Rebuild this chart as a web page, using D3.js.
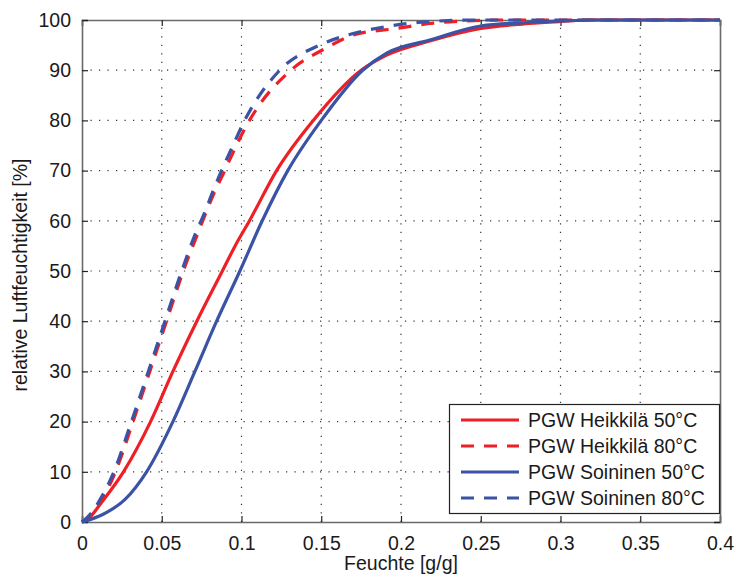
<!DOCTYPE html>
<html>
<head>
<meta charset="utf-8">
<script src="https://cdn.jsdelivr.net/npm/d3@7"></script>
<style>
  body { margin: 0; background: #fff; }
  text { font-family: "Liberation Sans", Arial, Helvetica, sans-serif; fill: #1a1a1a; }
</style>
</head>
<body>
<svg id="chart" width="736" height="577"></svg>
<script>
// values (Feuchte g/g -> relative Luftfeuchtigkeit %)
var heik50X = [0, 0.005, 0.012, 0.026, 0.043, 0.057, 0.072, 0.088, 0.096, 0.105, 0.122, 0.145, 0.175, 0.191, 0.218, 0.25, 0.28, 0.3, 0.32, 0.4];
var heik50Y = [0, 1, 3.8, 10, 20, 30, 40, 50, 55, 60, 70, 80, 90, 93, 95.8, 98.3, 99.3, 99.7, 100, 100];

var heik80X = [0, 0.006, 0.0135, 0.021, 0.032, 0.0425, 0.053, 0.0635, 0.072, 0.0835, 0.0895, 0.096, 0.105, 0.131, 0.153, 0.17, 0.197, 0.218, 0.24, 0.26, 0.4];
var heik80Y = [0, 1.5, 5, 10, 20, 30, 40, 50, 57, 66, 70, 74.5, 80, 90, 94.4, 97, 98.3, 99.3, 99.8, 100, 100];

var soin50X = [0, 0.013, 0.027, 0.0405, 0.057, 0.0708, 0.0844, 0.099, 0.113, 0.129, 0.15, 0.176, 0.191, 0.218, 0.25, 0.28, 0.3, 0.32, 0.4];
var soin50Y = [0, 1.5, 4.5, 10, 20, 30, 40, 50, 60, 70, 80, 90, 93.4, 96, 98.8, 99.5, 99.8, 100, 100];

var soin80X = [0, 0.005, 0.0123, 0.02, 0.031, 0.0416, 0.052, 0.0625, 0.0708, 0.0767, 0.082, 0.0876, 0.0938, 0.102, 0.124, 0.149, 0.17, 0.191, 0.218, 0.25, 0.4];
var soin80Y = [0, 1.5, 5, 10, 20, 30, 40, 50, 57.2, 61.5, 65.8, 70.1, 74.4, 80, 90, 95, 97.3, 98.7, 99.7, 100, 100];

var xTicks = [0, 0.05, 0.1, 0.15, 0.2, 0.25, 0.3, 0.35, 0.4];
var xTickLabels = ["0", "0.05", "0.1", "0.15", "0.2", "0.25", "0.3", "0.35", "0.4"];
var yTicks = [0, 10, 20, 30, 40, 50, 60, 70, 80, 90, 100];

var seriesNames = ["PGW Heikkilä 50°C", "PGW Heikkilä 80°C", "PGW Soininen 50°C", "PGW Soininen 80°C"];

var red = "#ee1f25", blue = "#3b53a5";
var series = [
  {name: seriesNames[0], xs: heik50X, ys: heik50Y, color: red, dash: null},
  {name: seriesNames[1], xs: heik80X, ys: heik80Y, color: red, dash: "13,10"},
  {name: seriesNames[2], xs: soin50X, ys: soin50Y, color: blue, dash: null},
  {name: seriesNames[3], xs: soin80X, ys: soin80Y, color: blue, dash: "13,10"}
];

var svg = d3.select("#chart");
var pL = 82, pR = 720, pT = 20, pB = 522;

var x = d3.scaleLinear().domain([0, 0.4]).range([pL, pR]);
var y = d3.scaleLinear().domain([0, 100]).range([pB, pT]);

// dotted grid
var grid = svg.append("g").attr("stroke", "#333").attr("stroke-width", 1.2).attr("stroke-dasharray", "1.2,7.3");
xTicks.slice(1, -1).forEach(function(t) {
  grid.append("line").attr("x1", x(t)).attr("x2", x(t)).attr("y1", pB).attr("y2", pT);
});
yTicks.slice(1, -1).forEach(function(t) {
  grid.append("line").attr("x1", pL).attr("x2", pR).attr("y1", y(t)).attr("y2", y(t));
});

// axes box with inward ticks
var xAxisB = d3.axisBottom(x).tickValues(xTicks).tickSize(-6).tickFormat(function(d, i) { return xTickLabels[i]; }).tickPadding(14);
var xAxisT = d3.axisTop(x).tickValues(xTicks).tickSize(-6).tickFormat("");
var yAxisL = d3.axisLeft(y).tickValues(yTicks).tickSize(-6).tickPadding(11);
var yAxisR = d3.axisRight(y).tickValues(yTicks).tickSize(-6).tickFormat("");

function styleAxis(g) {
  g.select(".domain").attr("stroke", "#6a6a6a").attr("stroke-width", 1.6);
  g.selectAll(".tick line").attr("stroke", "#222").attr("stroke-width", 1.2);
  g.selectAll(".tick text").style("font-size", "19.5px").attr("fill", "#1a1a1a");
}
svg.append("g").attr("transform", "translate(0," + pB + ")").call(xAxisB).call(styleAxis);
svg.append("g").attr("transform", "translate(0," + pT + ")").call(xAxisT).call(styleAxis);
svg.append("g").attr("transform", "translate(" + pL + ",0)").call(yAxisL).call(styleAxis);
svg.append("g").attr("transform", "translate(" + pR + ",0)").call(yAxisR).call(styleAxis);

// curves
var line = d3.line()
  .x(function(d) { return x(d[0]); })
  .y(function(d) { return y(d[1]); })
  .curve(d3.curveMonotoneX);

series.forEach(function(s) {
  var pts = s.xs.map(function(v, i) { return [v, s.ys[i]]; });
  svg.append("path")
    .datum(pts)
    .attr("d", line)
    .attr("fill", "none")
    .attr("stroke", s.color)
    .attr("stroke-width", 3.2)
    .attr("stroke-dasharray", s.dash);
});

// axis labels
svg.append("text")
  .attr("x", (pL + pR) / 2).attr("y", 570)
  .attr("text-anchor", "middle").style("font-size", "19.5px")
  .text("Feuchte [g/g]");
svg.append("text")
  .attr("transform", "translate(27," + ((pT + pB) / 2 + 4) + ") rotate(-90)")
  .attr("text-anchor", "middle").style("font-size", "19.5px")
  .text("relative Luftfeuchtigkeit [%]");

// legend
var lg = svg.append("g");
lg.append("rect")
  .attr("x", 449.5).attr("y", 404.5).attr("width", 270).attr("height", 109)
  .attr("fill", "#fff").attr("stroke", "#222").attr("stroke-width", 1.2);
series.forEach(function(s, i) {
  var cy = 420 + i * 26;
  lg.append("line")
    .attr("x1", 461).attr("x2", 519).attr("y1", cy).attr("y2", cy)
    .attr("stroke", s.color).attr("stroke-width", 3.2)
    .attr("stroke-dasharray", s.dash);
  lg.append("text")
    .attr("x", 528).attr("y", cy + 7)
    .style("font-size", "19.5px")
    .text(s.name);
});
</script>
</body>
</html>
